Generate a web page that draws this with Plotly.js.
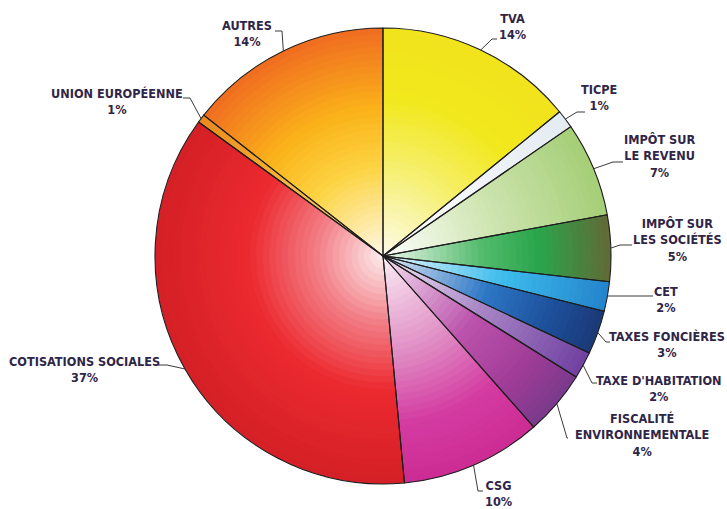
<!DOCTYPE html>
<html>
<head>
<meta charset="utf-8">
<script src="https://cdn.plot.ly/plotly-3.0.1.min.js"></script>
<style>html,body{margin:0;padding:0;background:#fff;}#chart{width:727px;height:509px;}</style>
</head>
<body>
<div id="chart"></div>
<script>
// ---- data ----
const categories = ['TVA','TICPE','IMPÔT SUR\nLE REVENU','IMPÔT SUR\nLES SOCIÉTÉS','CET','TAXES FONCIÈRES',"TAXE D'HABITATION",'FISCALITÉ\nENVIRONNEMENTALE','CSG','COTISATIONS SOCIALES','UNION EUROPÉENNE','AUTRES'];
const values = [14.1, 1.3, 6.7, 4.7, 2.1, 3.1, 1.9, 4.6, 10.0, 36.5, 0.6, 14.4];
const shownPct = [14, 1, 7, 5, 2, 3, 2, 4, 10, 37, 1, 14];

// ---- styles: radial colour stops per slice [fraction, colour] ----
const gradients = [
  [[0,'#fdfcee'],[0.45,'#f5ee60'],[0.7,'#f2e81e'],[1,'#f1e31c']],
  [[0,'#ffffff'],[1,'#e4ebf2']],
  [[0,'#ffffff'],[0.5,'#cfe5b2'],[1,'#a6cf78']],
  [[0,'#f2f9f2'],[0.45,'#52bb6c'],[0.7,'#2aa54c'],[1,'#5f6c38']],
  [[0,'#eef8fd'],[0.55,'#3cbcec'],[1,'#2585cc']],
  [[0,'#e6eef8'],[0.5,'#2c76c4'],[0.8,'#1d4f9a'],[1,'#1b3a78']],
  [[0,'#f2ecf6'],[0.5,'#a886c6'],[1,'#7242a2']],
  [[0,'#f6e6f2'],[0.5,'#bb52ac'],[0.8,'#a03c98'],[1,'#7c3a8c']],
  [[0,'#fbf0f6'],[0.45,'#e08cc4'],[0.75,'#d43ca2'],[1,'#cc2c94']],
  [[0,'#fdf2f2'],[0.3,'#f28088'],[0.6,'#ec2a30'],[1,'#d42026']],
  [[0,'#fbe0a0'],[0.6,'#f6b030'],[1,'#ec8a20']],
  [[0,'#fff9ec'],[0.4,'#fcd444'],[0.65,'#fbb41a'],[1,'#f06e20']]
];

// label layout (pixel positions): text centre, elbow point, line end
const labelPos = [
  {x:512,y:26, e:[492,39], t:[497,39]},
  {x:599,y:98, e:[577,112], t:[585,112]},
  {x:659,y:156, e:[613,162], t:[623,162]},
  {x:677,y:240, e:[620,245], t:[632,245]},
  {x:666,y:299, e:[608,296], t:[653,296]},
  {x:667,y:344, e:[606,342], t:[610,342]},
  {x:659,y:388, e:[592,383], t:[597,383]},
  {x:642,y:435, e:[567,438], t:[568,438]},
  {x:498,y:493, e:[478,491], t:[483,491]},
  {x:84,y:369, e:[167,365], t:[158,365]},
  {x:117,y:101, e:[190,98], t:[183,98]},
  {x:247,y:34, e:[282,31], t:[275,31]}
];

const W = 727, H = 509;
const CX = 383, CY = 256, R = 228;
const px = x => x / W;
const py = y => 1 - y / H;

function hexToRgb(h){return [parseInt(h.substr(1,2),16),parseInt(h.substr(3,2),16),parseInt(h.substr(5,2),16)];}
function colorAt(stops, f){
  for (let i=0;i<stops.length-1;i++){
    const [f0,c0]=stops[i],[f1,c1]=stops[i+1];
    if (f<=f1){
      const t=(f-f0)/(f1-f0), a=hexToRgb(c0), b=hexToRgb(c1);
      return 'rgb('+a.map((v,k)=>Math.round(v+(b[k]-v)*t)).join(',')+')';
    }
  }
  return stops[stops.length-1][1];
}

const traces = [];
const N = 36;
for (let k=0;k<N;k++){
  const s = 1 - k/N;           // radius fraction
  const rx = R*s/W, ry = R*s/H;
  traces.push({
    type:'pie', values: values, labels: categories, sort:false, direction:'clockwise', rotation:0,
    textinfo:'none', hoverinfo:'skip',
    domain:{x:[px(CX)-rx, px(CX)+rx], y:[py(CY)-ry, py(CY)+ry]},
    marker:{colors: gradients.map(g=>colorAt(g, s)), line:{width:0}},
    showlegend:false
  });
}
// outline
traces.push({
  type:'pie', values: values, labels: categories, sort:false, direction:'clockwise', rotation:0,
  textinfo:'none', hoverinfo:'label+percent',
  domain:{x:[px(CX)-R/W, px(CX)+R/W], y:[py(CY)-R/H, py(CY)+R/H]},
  marker:{colors: values.map(()=> 'rgba(0,0,0,0)'), line:{width:1.1, color:'#1e1e1e'}},
  showlegend:false
});

const total = values.reduce((a,b)=>a+b,0);
let cum = 0;
const shapes = [], annotations = [];
values.forEach((v,i)=>{
  const th = 2*Math.PI*(cum + v/2)/total; cum += v;
  const ex = CX + R*Math.sin(th), ey = CY - R*Math.cos(th);
  const L = labelPos[i];
  shapes.push({type:'path', xref:'paper', yref:'paper',
    path:`M ${px(ex)},${py(ey)} L ${px(L.e[0])},${py(L.e[1])} L ${px(L.t[0])},${py(L.t[1])}`,
    line:{color:'#3a3a3a', width:1}});
  annotations.push({xref:'paper', yref:'paper', x:px(L.x), y:py(L.y), xanchor:'center', yanchor:'middle',
    showarrow:false, align:'center',
    text: categories[i].replace('\n','<br>') + '<br>' + shownPct[i] + '%',
    font:{family:'"Liberation Sans Narrow", "DejaVu Sans Condensed", Arial, sans-serif', size:12.6, color:'#2f2547', weight:700}});
});

Plotly.newPlot('chart', traces, {
  width:W, height:H, margin:{l:0,r:0,t:0,b:0},
  paper_bgcolor:'#ffffff', plot_bgcolor:'#ffffff',
  showlegend:false, shapes:shapes, annotations:annotations
}, {displayModeBar:false, staticPlot:true});
</script>
</body>
</html>
